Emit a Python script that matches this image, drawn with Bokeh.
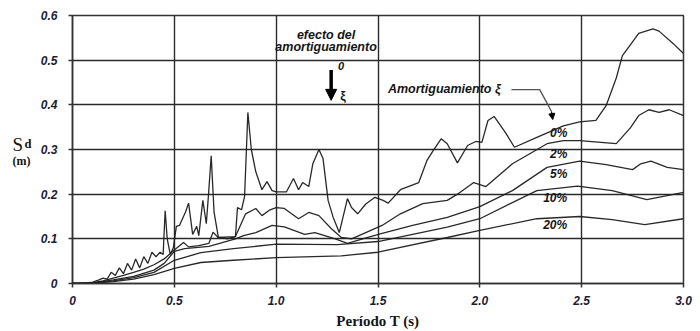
from bokeh.plotting import figure
from bokeh.models import Range1d, FixedTicker, PrintfTickFormatter, Label, Arrow, NormalHead
from bokeh.layouts import row
from bokeh.core.properties import value
from bokeh.embed import file_html
from bokeh.resources import INLINE

# ---- data (period T in s, spectral displacement Sd in m) ----
T_0 = [0, 0.05, 0.1, 0.13, 0.15, 0.17, 0.19, 0.21, 0.23, 0.25, 0.27, 0.29, 0.31, 0.33, 0.35, 0.37, 0.39,
       0.41, 0.43, 0.445, 0.455, 0.465, 0.48, 0.495, 0.51, 0.525, 0.54, 0.555, 0.57, 0.59, 0.61, 0.62,
       0.64, 0.657, 0.668, 0.681, 0.695, 0.716, 0.76, 0.80, 0.81, 0.83, 0.845, 0.861, 0.878, 0.90, 0.93,
       0.955, 0.98, 1.0, 1.05, 1.085, 1.11, 1.13, 1.16, 1.18, 1.21, 1.23, 1.255, 1.28, 1.31, 1.35, 1.37,
       1.40, 1.44, 1.485, 1.525, 1.55, 1.61, 1.70, 1.74, 1.77, 1.81, 1.84, 1.89, 1.94, 1.98, 2.01, 2.04,
       2.07, 2.13, 2.17, 2.28, 2.41, 2.49, 2.57, 2.62, 2.67, 2.70, 2.74, 2.78, 2.85, 2.88, 2.95, 3.0]
Sd_0 = [0, 0, 0.003, 0.008, 0.012, 0.01, 0.025, 0.018, 0.035, 0.022, 0.045, 0.03, 0.055, 0.035, 0.06,
        0.045, 0.07, 0.06, 0.07, 0.065, 0.163, 0.1, 0.065, 0.08, 0.128, 0.13, 0.145, 0.16, 0.18, 0.11,
        0.128, 0.107, 0.186, 0.134, 0.2, 0.286, 0.16, 0.104, 0.1, 0.105, 0.17, 0.165, 0.195, 0.383, 0.3,
        0.25, 0.21, 0.228, 0.208, 0.205, 0.205, 0.235, 0.21, 0.226, 0.217, 0.268, 0.30, 0.28, 0.186,
        0.148, 0.114, 0.19, 0.17, 0.156, 0.178, 0.193, 0.186, 0.18, 0.21, 0.226, 0.275, 0.297, 0.324,
        0.313, 0.27, 0.309, 0.318, 0.316, 0.365, 0.374, 0.335, 0.305, 0.327, 0.353, 0.362, 0.365, 0.398,
        0.46, 0.51, 0.535, 0.56, 0.57, 0.565, 0.537, 0.515]

T_2 = [0, 0.1, 0.15, 0.2, 0.25, 0.3, 0.35, 0.4, 0.45, 0.5, 0.545, 0.57, 0.62, 0.67, 0.69, 0.715, 0.8,
       0.85, 0.9, 0.93, 0.97, 1.0, 1.04, 1.11, 1.16, 1.21, 1.27, 1.32, 1.37, 1.44, 1.52, 1.61, 1.72,
       1.84, 1.89, 1.97, 2.03, 2.16, 2.33, 2.41, 2.49, 2.67, 2.74, 2.78, 2.83, 2.88, 2.93, 3.0]
Sd_2 = [0, 0.002, 0.006, 0.012, 0.018, 0.025, 0.032, 0.042, 0.055, 0.075, 0.092, 0.082, 0.085, 0.09,
        0.115, 0.103, 0.105, 0.156, 0.168, 0.152, 0.165, 0.17, 0.168, 0.145, 0.159, 0.152, 0.123, 0.103,
        0.1, 0.114, 0.13, 0.156, 0.179, 0.186, 0.2, 0.226, 0.217, 0.268, 0.313, 0.32, 0.32, 0.313, 0.349,
        0.376, 0.389, 0.383, 0.389, 0.376]

T_5 = [0, 0.1, 0.2, 0.3, 0.4, 0.45, 0.5, 0.55, 0.67, 0.8, 0.84, 0.9, 0.98, 1.04, 1.14, 1.19, 1.29, 1.35,
       1.45, 1.52, 1.67, 1.84, 2.0, 2.16, 2.33, 2.49, 2.62, 2.75, 2.79, 2.84, 2.92, 3.0]
Sd_5 = [0, 0.001, 0.008, 0.016, 0.03, 0.045, 0.072, 0.078, 0.083, 0.1, 0.107, 0.114, 0.13, 0.127, 0.11,
        0.114, 0.1, 0.09, 0.103, 0.112, 0.13, 0.148, 0.172, 0.208, 0.26, 0.274, 0.266, 0.255, 0.268,
        0.274, 0.26, 0.255]

T_10 = [0, 0.1, 0.2, 0.3, 0.4, 0.5, 0.63, 0.79, 1.0, 1.3, 1.5, 1.84, 2.0, 2.28, 2.48, 2.65, 2.82, 3.0]
Sd_10 = [0, 0.001, 0.006, 0.013, 0.025, 0.052, 0.069, 0.078, 0.088, 0.087, 0.094, 0.126, 0.145, 0.208,
         0.218, 0.208, 0.188, 0.204]

T_20 = [0, 0.1, 0.2, 0.3, 0.4, 0.5, 0.63, 0.79, 1.0, 1.32, 1.5, 1.84, 2.0, 2.28, 2.49, 2.65, 2.81, 3.0]
Sd_20 = [0, 0.001, 0.004, 0.01, 0.02, 0.034, 0.047, 0.052, 0.058, 0.062, 0.07, 0.103, 0.119, 0.145,
         0.15, 0.143, 0.132, 0.145]

series_T = [T_0, T_2, T_5, T_10, T_20]
series_Sd = [Sd_0, Sd_2, Sd_5, Sd_10, Sd_20]
series_names = ["0%", "2%", "5%", "10%", "20%"]
series_label_T = [2.387, 2.387, 2.387, 2.37, 2.37]
series_label_Sd = [0.336, 0.291, 0.246, 0.192, 0.130]

x_ticks = [0, 0.5, 1.0, 1.5, 2.0, 2.5, 3.0]
y_ticks = [0, 0.1, 0.2, 0.3, 0.4, 0.5, 0.6]

SANS = "Liberation Sans"
SERIF = "Liberation Serif"
TICK_COLOR = "#1c1c36"
INK = "#151515"
H = 331
LEFT_W = 34

# ---- narrow panel holding the y-axis title "S_d (m)" (pixel coordinates, y down) ----
pl = figure(width=LEFT_W, height=H, output_backend="svg", toolbar_location=None,
            x_range=Range1d(0, LEFT_W), y_range=Range1d(H, 0),
            x_axis_type=None, y_axis_type=None,
            min_border_left=0, min_border_right=0, min_border_top=0, min_border_bottom=0)
pl.outline_line_color = None
pl.background_fill_color = "white"
pl.border_fill_color = "white"
pl.text(x=[12], y=[159], text=["S"], text_font=value(SERIF), text_font_size="19px",
        text_color=INK, text_baseline="alphabetic", text_align="left")
pl.text(x=[24], y=[159], text=["d"], text_font=value(SERIF), text_font_style="bold",
        text_font_size="12.5px", text_color=INK, text_baseline="alphabetic", text_align="left")
pl.text(x=[12], y=[180], text=["(m)"], text_font=value(SERIF), text_font_style="bold",
        text_font_size="12px", text_color=INK, text_baseline="alphabetic", text_align="left")

# ---- main chart ----
p = figure(width=700 - LEFT_W, height=H, output_backend="svg", toolbar_location=None,
           x_range=Range1d(0, 3.0), y_range=Range1d(0, 0.6),
           min_border_left=72 - LEFT_W, min_border_right=17, min_border_top=15, min_border_bottom=48)
p.background_fill_color = "white"
p.border_fill_color = "white"
p.outline_line_color = "#333333"
p.outline_line_width = 1.5

for ax in (p.xaxis[0], p.yaxis[0]):
    ax.axis_line_color = "#333333"
    ax.axis_line_width = 1.5
    ax.major_tick_line_color = "#333333"
    ax.major_tick_line_width = 1.5
    ax.major_tick_out = 4
    ax.major_tick_in = 0
    ax.minor_tick_line_color = None
    ax.major_label_text_font = SANS
    ax.major_label_text_font_style = "bold italic"
    ax.major_label_text_font_size = "12px"
    ax.major_label_text_color = TICK_COLOR

p.xaxis.ticker = FixedTicker(ticks=x_ticks)
p.yaxis.ticker = FixedTicker(ticks=y_ticks)
p.xaxis.formatter = PrintfTickFormatter(format="%.1f")
p.yaxis.formatter = PrintfTickFormatter(format="%.1f")
p.xaxis.major_label_overrides = {0: "0"}
p.yaxis.major_label_overrides = {0: "0"}
p.xaxis.major_label_standoff = 8
p.yaxis.major_label_standoff = 11

p.xaxis.axis_label = "Período T (s)"
p.xaxis.axis_label_text_font = SERIF
p.xaxis.axis_label_text_font_style = "bold"
p.xaxis.axis_label_text_font_size = "15px"
p.xaxis.axis_label_text_color = INK
p.xaxis.axis_label_standoff = 5

p.xgrid.ticker = FixedTicker(ticks=x_ticks)
p.ygrid.ticker = FixedTicker(ticks=y_ticks)
for g in (p.xgrid[0], p.ygrid[0]):
    g.grid_line_color = "#2a2a2a"
    g.grid_line_width = 1.4

# curves
for T, Sd in zip(series_T, series_Sd):
    p.line(T, Sd, line_color="#1e1e1e", line_width=1.3, line_alpha=0.95)

# curve labels
for name, lx, ly in zip(series_names, series_label_T, series_label_Sd):
    p.add_layout(Label(x=lx, y=ly, text=name, text_align="center", text_baseline="middle",
                       text_font=SANS, text_font_style="bold italic", text_font_size="12px",
                       text_color=INK))

# damping effect annotation
p.add_layout(Label(x=1.245, y=0.557, text="efecto del", text_align="center", text_baseline="middle",
                   text_font=SANS, text_font_style="bold italic", text_font_size="12.5px",
                   text_color=INK))
p.add_layout(Label(x=1.245, y=0.530, text="amortiguamiento", text_align="center",
                   text_baseline="middle", text_font=SANS, text_font_style="bold italic",
                   text_font_size="12.5px", text_color=INK))
p.add_layout(Arrow(end=NormalHead(size=11, fill_color="black", line_color="black"),
                   x_start=1.27, y_start=0.478, x_end=1.27, y_end=0.41,
                   line_color="black", line_width=3.5))
p.add_layout(Label(x=1.319, y=0.487, text="0", text_align="center", text_baseline="middle",
                   text_font=SANS, text_font_style="bold italic", text_font_size="11px",
                   text_color=INK))
p.add_layout(Label(x=1.328, y=0.42, text="ξ", text_align="center", text_baseline="middle",
                   text_font=SANS, text_font_style="bold", text_font_size="12.5px", text_color=INK))

# "Amortiguamiento ξ" leader
p.add_layout(Label(x=1.549, y=0.436, text="Amortiguamiento ξ", text_align="left",
                   text_baseline="middle", text_font=SANS, text_font_style="bold italic",
                   text_font_size="12.5px", text_color=INK))
leader_x = [2.155, 2.294, 2.352]
leader_y = [0.434, 0.434, 0.385]
p.line(leader_x, leader_y, line_color="#555555", line_width=1.4)
p.add_layout(Arrow(end=NormalHead(size=6, fill_color="black", line_color="black"),
                   x_start=2.352, y_start=0.385, x_end=2.358, y_end=0.367,
                   line_color="black", line_width=1.2))

layout = row(pl, p, spacing=0)
open("out.html", "w").write(file_html(layout, INLINE))
